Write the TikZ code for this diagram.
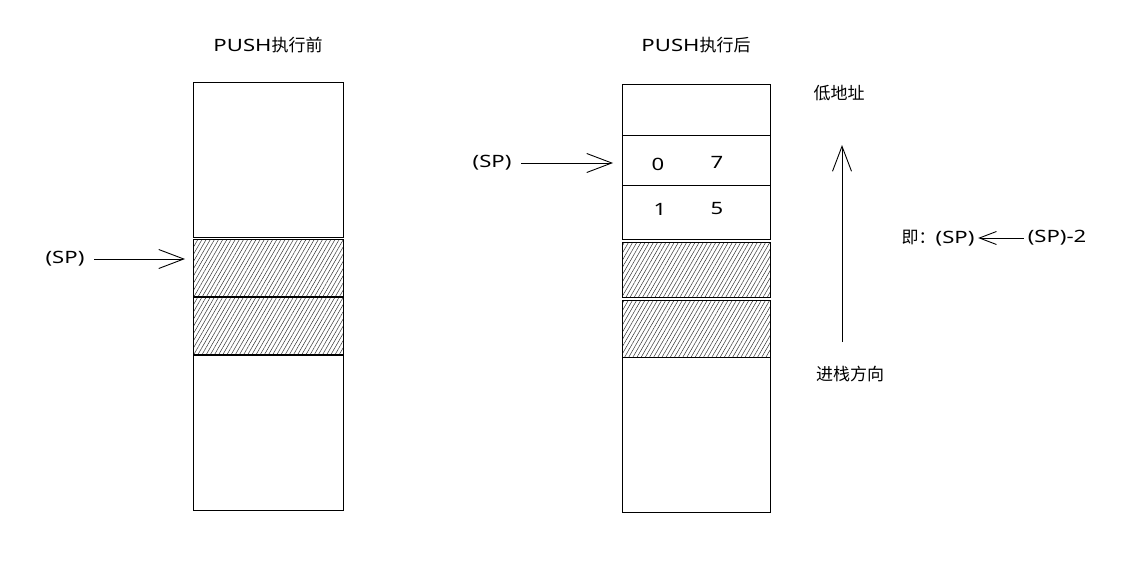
\documentclass[tikz,border=0pt]{standalone}
\usepackage{fontspec}
\setmainfont{Noto Sans CJK SC}
\newfontfamily\lat[FakeStretch=1.3]{Noto Sans}
\usetikzlibrary{arrows.meta,patterns.meta,positioning}
\begin{document}
\begin{tikzpicture}[x=1pt,y=-1pt,line width=0.9pt,
    font=\fontsize{17}{20}\selectfont,
    latin/.style={font=\fontsize{17}{20}\selectfont\lat},
    cell/.style={draw,minimum width=150pt,inner sep=0pt,outer sep=0pt,anchor=north},
    hatched/.style={cell,pattern={Lines[angle=60,distance=3.6pt,line width=0.5pt]},pattern color=black!80},
    >={Straight Barb[length=25pt,width=19pt]},
    small/.style={-{Straight Barb[length=17pt,width=13pt]}}]
  \useasboundingbox (0,0) rectangle (1131,575);
  \node(pre) at (268,45){{\lat PUSH}执行前};
  \node(a1)[cell,minimum height=155pt] at (268,82){};
  \node(a2)[hatched,minimum height=57pt,below=2pt of a1]{};
  \node(a3)[hatched,minimum height=57pt,below=1pt of a2]{};
  \node(a4)[cell,minimum height=155pt,below=1pt of a3]{};
  \node(post) at (696,45){{\lat PUSH}执行后};
  \node(b1)[cell,minimum width=148pt,minimum height=51pt] at (696,84){};
  \node(b2)[cell,minimum width=148pt,minimum height=50pt,below=0pt of b1]{};
  \node(b3)[cell,minimum width=148pt,minimum height=54pt,below=0pt of b2]{};
  \node(b4)[hatched,minimum width=148pt,minimum height=55pt,below=3pt of b3]{};
  \node(b5)[hatched,minimum width=148pt,minimum height=57pt,below=3pt of b4]{};
  \node(b6)[cell,minimum width=148pt,minimum height=155pt,below=0pt of b5]{};
  \node(d0)[latin] at (658,164){0};
  \node(d7)[latin] at (717,162){7};
  \node(d1)[latin] at (660,209){1};
  \node(d5)[latin] at (717,209){5};
  \node(sp1)[latin] at (65,259){(SP)};
  \node(sp2)[latin] at (492,163){(SP)};
  \coordinate(p1) at (185,259);
  \coordinate(p2) at (613,163);
  \path[->] (sp1) edge[shorten <=6pt] (p1);
  \path[->] (sp2) edge[shorten <=6pt] (p2);
  \node(low) at (839,93){低地址};
  \node(dir) at (850,374){进栈方向};
  \coordinate(u1) at (842,342);
  \coordinate(u2) at (842,145);
  \path[->] (u1) edge (u2);
  \node(eq1) at (938,238){即：{\lat(SP)}};
  \node(eq2)[latin] at (1057,238){(SP)-2};
  \path[small] (eq2) edge (eq1);
\end{tikzpicture}
\end{document}
